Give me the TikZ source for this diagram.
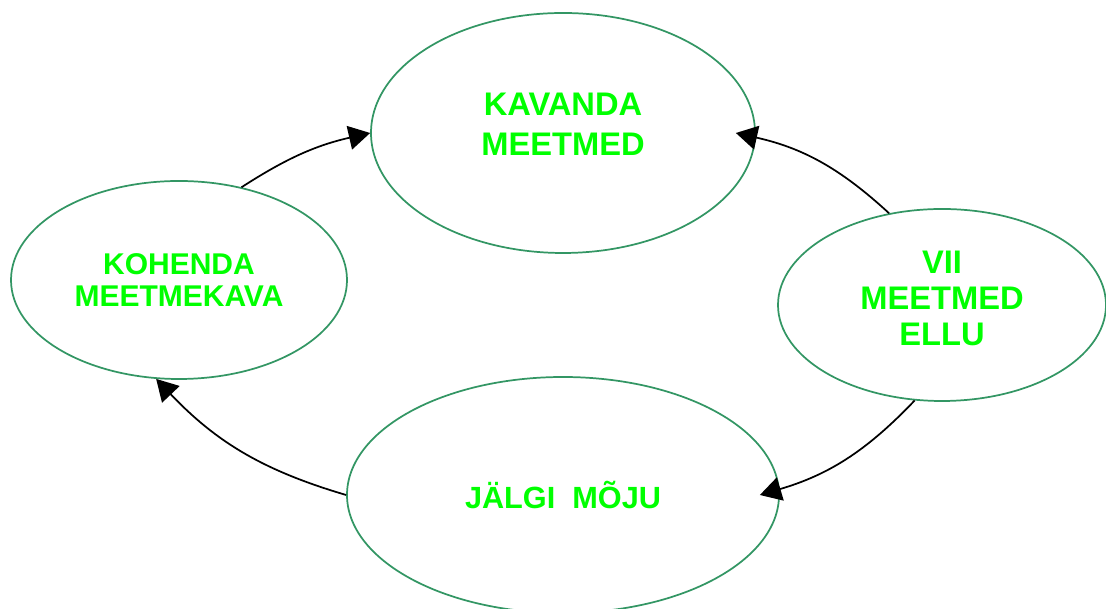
\documentclass[tikz,border=0pt]{standalone}
\usepackage{fontspec}
\setmainfont{Liberation Sans}
\usetikzlibrary{positioning,arrows.meta,shapes.geometric}
\definecolor{ringgreen}{RGB}{51,150,100}
\definecolor{labelgreen}{RGB}{0,255,0}

\begin{document}
\begin{tikzpicture}[x=0.75pt, y=0.75pt,
    ring/.style={ellipse, draw=ringgreen, line width=1.3pt, inner sep=0pt},
    ring text/.style={text=labelgreen, align=center, inner sep=0pt},
    cycle arrow/.style={draw=black, line width=1.3pt, -{Triangle[length=16pt, width=18pt]}}]
  \def\xbig{\bfseries\fontsize{24.5}{30}\selectfont}
  \def\xmid{\bfseries\fontsize{22.5}{24}\selectfont}
  \def\xtall{\bfseries\fontsize{24.5}{27}\selectfont}
  \def\xwide{\bfseries\fontsize{23}{28}\selectfont}
  \useasboundingbox (0, 0) rectangle (1106, 609);
  % Plan
  \node [ring, minimum width=288pt, minimum height=180pt] (plan ring) at (563, 476) {};
  \node [ring text, font=\xbig, above = 6.75pt of plan ring.center, anchor=center] (plan) {KAVANDA\\MEETMED};
  % Adjust
  \node [ring, minimum width=252pt, minimum height=148.5pt] (fix ring) at (179, 329) {};
  \node [ring text, font=\xmid] (fix) at (fix ring.center) {KOHENDA\\MEETMEKAVA};
  % Carry out
  \node [ring, minimum width=246pt, minimum height=144pt] (do ring) at (942, 304) {};
  \node [ring text, font=\xtall, above = 5.25pt of do ring.center, anchor=center] (do) {VII\\MEETMED\\ELLU};
  % Monitor
  \node [ring, minimum width=324pt, minimum height=177pt] (watch ring) at (563, 114) {};
  \node [ring text, font=\xwide] (watch) at (watch ring.center) {JÄLGI\ \ MÕJU};
  % Cycle
  \draw [cycle arrow] (fix ring.56) to [bend left=10] (plan ring.west);
  \draw [cycle arrow] (do ring.120) to [bend right=15] ([xshift=-15pt]plan ring.east);
  \draw [cycle arrow] (do ring.254) to [bend left=15] ([xshift=-15pt]watch ring.east);
  \draw [cycle arrow] (watch ring.west) to [bend left=15] (fix ring.257);
\end{tikzpicture}
\end{document}
